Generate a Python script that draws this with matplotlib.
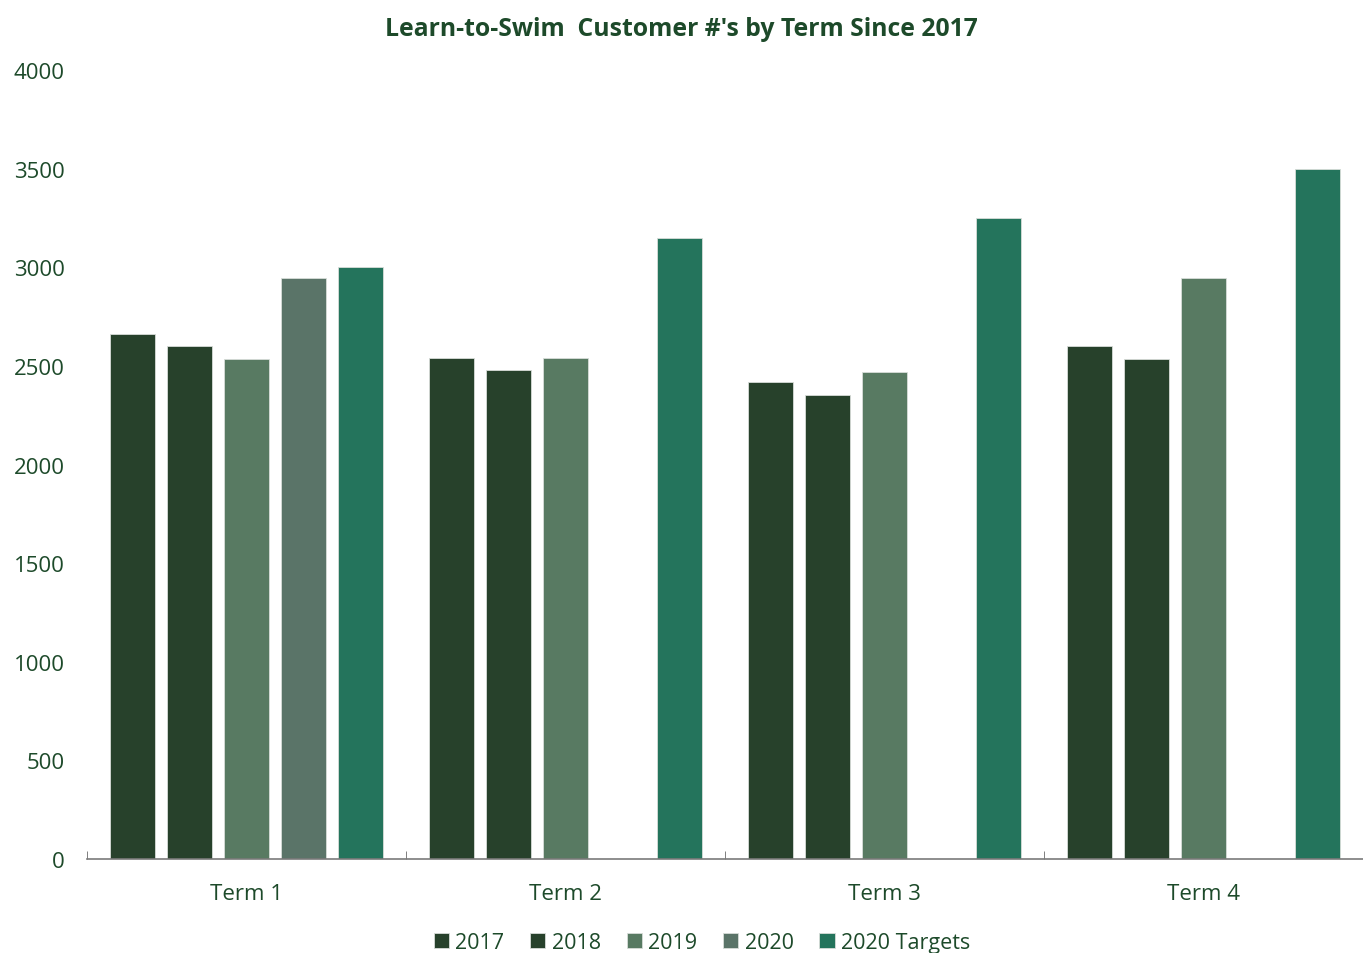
import matplotlib.pyplot as plt
import numpy as np

terms = ["Term 1", "Term 2", "Term 3", "Term 4"]
series = ["2017", "2018", "2019", "2020", "2020 Targets"]
v2017 = [2660, 2540, 2420, 2600]
v2018 = [2600, 2480, 2350, 2535]
v2019 = [2535, 2540, 2470, 2945]
v2020 = [2945, np.nan, np.nan, np.nan]
targets = [3000, 3150, 3250, 3500]
values = [v2017, v2018, v2019, v2020, targets]
colors = ["#27412b", "#27412b", "#587a62", "#5a7468", "#24745c"]

text_col = "#1d4a2a"
plt.rcParams['font.family'] = ['Open Sans', 'DejaVu Sans']

fig = plt.figure(figsize=(13.63, 9.54), dpi=100)
ax = fig.add_axes([0.0638, 0.0985, 0.9362, 0.8271])

x = np.arange(len(terms))
width = 0.1425
step = 0.1786
for i, (name, vals) in enumerate(zip(series, values)):
    ax.bar(x + (i - 2) * step, vals, width, color=colors[i], label=name,
           edgecolor="#d8ddd9", linewidth=0.6)

ax.set_xlim(-0.5, 3.452)
ax.set_ylim(0, 4000)
ax.set_yticks(np.arange(0, 4001, 500))
ax.set_xticks(x)
ax.set_xticklabels(terms)
ax.set_xticks(np.arange(-0.5, 4, 1), minor=True)
ax.tick_params(axis='x', which='major', length=0, pad=17, labelsize=16, labelcolor=text_col)
ax.tick_params(axis='x', which='minor', direction='in', length=6, color="#6a6a6a")
ax.tick_params(axis='y', length=0, labelsize=16, labelcolor=text_col, pad=16)

for s in ['top', 'right', 'left']:
    ax.spines[s].set_visible(False)
ax.spines['bottom'].set_color("#7a7a7a")
ax.spines['bottom'].set_linewidth(1.2)

fig.suptitle("Learn-to-Swim  Customer #'s by Term Since 2017", y=0.982,
             fontsize=17.8, fontweight='bold', color=text_col)

leg = fig.legend(loc='lower center', bbox_to_anchor=(0.515, -0.02), ncol=5,
                 frameon=False, fontsize=15.5, handlelength=0.7, handleheight=0.7,
                 handletextpad=0.3, columnspacing=1.2)
for t in leg.get_texts():
    t.set_color(text_col)

fig.savefig("out.png", dpi=100)
